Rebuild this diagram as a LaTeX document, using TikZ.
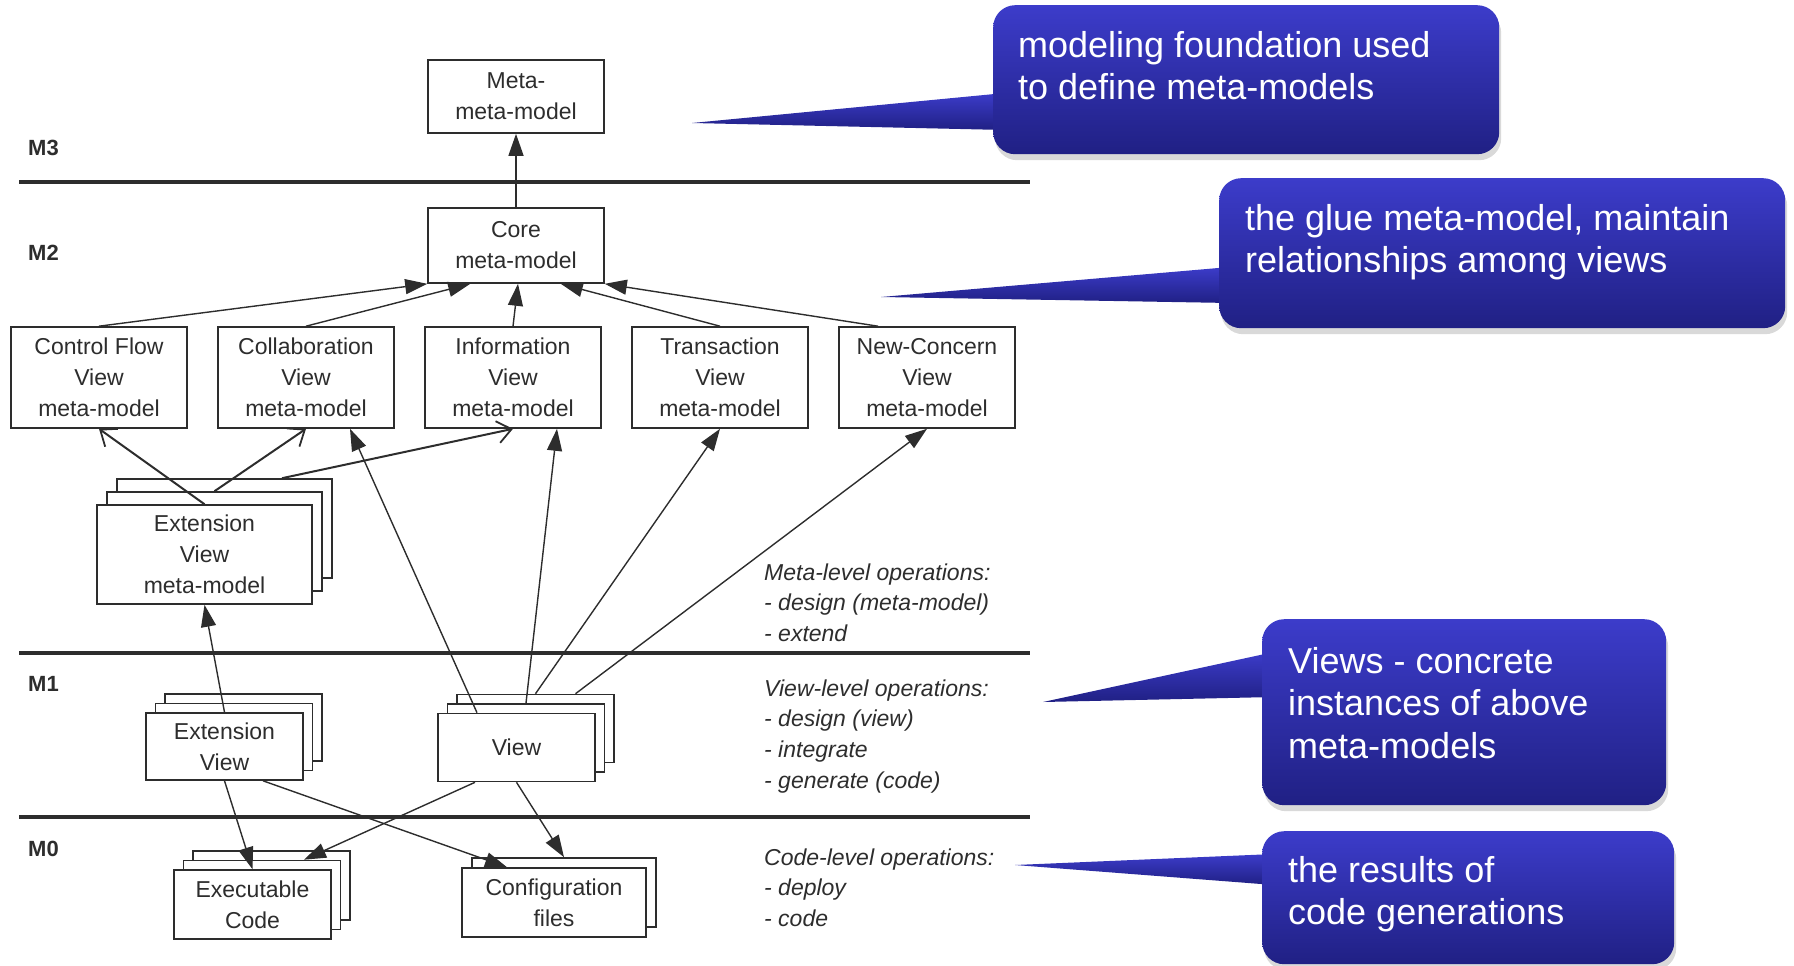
\documentclass[tikz,border=0pt]{standalone}
\usepackage{fontspec}
\setmainfont{Liberation Sans}
\usetikzlibrary{arrows.meta,shadows}

\definecolor{calltop}{RGB}{60,60,202}
\definecolor{callmid}{RGB}{44,44,168}
\definecolor{callbot}{RGB}{32,32,132}
\definecolor{ink}{RGB}{45,45,45}

\begin{document}
\begin{tikzpicture}[x=1pt, y=-1pt,
    box/.style={draw=ink, line width=1.6pt, fill=white, align=center, text=ink,
      inner sep=0pt, font=\fontsize{23}{31}\selectfont},
    vm/.style={box, minimum width=176pt, minimum height=101pt},
    layer/.style={draw=ink, line width=1.6pt, fill=white, inner sep=0pt},
    level/.style={line width=3.5pt, draw=ink},
    lvl name/.style={anchor=west, inner sep=0pt, text=ink, font=\fontsize{22}{22}\bfseries\selectfont},
    ops/.style={anchor=base west, inner sep=0pt, align=left, text=ink,
      font=\fontsize{23}{30.7}\itshape\selectfont},
    arr/.style={-{Triangle[length=22pt, width=15pt]}, line width=1.4pt, draw=ink},
    ext arr/.style={-{Straight Barb[length=14pt, width=22pt, line width=1.8pt]}, line width=2pt, draw=ink},
    callout/.style={anchor=north west, top color=calltop, middle color=callmid, bottom color=callbot,
      rounded corners=22pt, drop shadow={shadow xshift=2pt, shadow yshift=-6pt, opacity=0.3}},
    pointer/.style={top color=calltop, bottom color=callbot},
    callout text/.style={anchor=base west, inner sep=0pt, align=left, text=white,
      font=\fontsize{36}{42.5}\selectfont}
]
    \useasboundingbox (0,0) rectangle (1794,966);

    % levels
    \draw[level] (19,182) -- (1030,182);
    \draw[level] (19,653) -- (1030,653);
    \draw[level] (19,817) -- (1030,817);
    \node[lvl name] (m3) at (28,148) {M3};
    \node[lvl name] (m2) at (28,253) {M2};
    \node[lvl name] (m1) at (28,684) {M1};
    \node[lvl name] (m0) at (28,849) {M0};

    % M3 and M2
    \node[box, minimum width=176pt, minimum height=73pt] (meta) at (516,96.5) {Meta-\\meta-model};
    \node[box, minimum width=176pt, minimum height=75pt] (core) at (516,245.5) {Core\\meta-model};

    \node[vm] (cf) at (99,377.5) {Control Flow\\View\\meta-model};
    \node[vm] (collab) at (306,377.5) {Collaboration\\View\\meta-model};
    \node[vm] (info) at (513,377.5) {Information\\View\\meta-model};
    \node[vm] (trans) at (720,377.5) {Transaction\\View\\meta-model};
    \node[vm] (newc) at (927,377.5) {New-Concern\\View\\meta-model};

    \node[layer, minimum width=215pt, minimum height=99pt] (extmmC) at (224.5,528.5) {};
    \node[layer, minimum width=215pt, minimum height=99pt] (extmmB) at (214.5,541.5) {};
    \node[box, minimum width=215pt, minimum height=99pt] (extmm) at (204.5,554.5) {Extension\\View\\meta-model};

    % M1
    \node[layer, minimum width=157pt, minimum height=67pt] (extvC) at (243.5,727.5) {};
    \node[layer, minimum width=157pt, minimum height=67pt] (extvB) at (234,737) {};
    \node[box, minimum width=157pt, minimum height=67pt] (extv) at (224.5,746.5) {Extension\\View};

    \node[layer, minimum width=157pt, minimum height=68pt] (viewC) at (535.5,728.5) {};
    \node[layer, minimum width=157pt, minimum height=68pt] (viewB) at (526,738) {};
    \node[box, minimum width=157pt, minimum height=68pt] (view) at (516.5,747.5) {View};

    % M0
    \node[layer, minimum width=157pt, minimum height=69pt] (execC) at (271.5,885.5) {};
    \node[layer, minimum width=157pt, minimum height=69pt] (execB) at (262,895) {};
    \node[box, minimum width=157pt, minimum height=69pt] (exec) at (252.5,904.5) {Executable\\Code};

    \node[layer, minimum width=184pt, minimum height=69pt] (configB) at (564,892.5) {};
    \node[box, minimum width=184pt, minimum height=69pt] (config) at (554,902.5) {Configuration\\files};

    % connectors
    \draw[arr] (core) -- (meta);
    \draw[arr] (cf.north) -- (core.south west);
    \draw[arr] (collab.north) -- ([xshift=43pt]core.south west);
    \draw[arr] (info.north) -- ([xshift=2pt]core.south);
    \draw[arr] (trans.north) -- ([xshift=-44pt]core.south east);
    \draw[arr] ([xshift=-49pt]newc.north) -- (core.south east);

    \draw[ext arr] (extmm.north) -- (cf.south);
    \draw[ext arr] (extmmB.north) -- (collab.south);
    \draw[ext arr] ([xshift=57.5pt]extmmC.north) -- (info.south);

    \draw[arr] ([xshift=-39.5pt]view.north) -- ([xshift=44pt]collab.south);
    \draw[arr] (viewB.north) -- ([xshift=44pt]info.south);
    \draw[arr] (viewC.north) -- (trans.south);
    \draw[arr] ([xshift=40pt]viewC.north) -- (newc.south);

    \draw[arr] (extv.north) -- (extmm.south);
    \draw[arr] (extv.south) -- (exec.north);
    \draw[arr] ([xshift=38.5pt]extv.south) -- ([xshift=-47pt]config.north);
    \draw[arr] ([xshift=-41.5pt]view.south) -- ([xshift=42pt]execB.north);
    \draw[arr] (view.south) -- (configB.north);

    % operations (base = last line)
    \node[ops] (metaops) at (764,641.4) {Meta-level operations:\\- design (meta-model)\\- extend};
    \node[ops] (viewops) at (764,788.1) {View-level operations:\\- design (view)\\- integrate\\- generate (code)};
    \node[ops] (codeops) at (764,926.4) {Code-level operations:\\- deploy\\- code};

    % callouts
    \coordinate (tip1) at (692,123);
    \coordinate (tip2) at (881,297);
    \coordinate (tip3) at (1043,702);
    \coordinate (tip4) at (1015,865);
    \path[pointer] (tip1) -- (1005,93) -- (1005,130) -- cycle;
    \path[pointer] (tip2) -- (1230,267) -- (1230,303) -- cycle;
    \path[pointer] (tip3) -- (1274,652) -- (1274,697) -- cycle;
    \path[pointer] (tip4) -- (1274,854) -- (1274,885) -- cycle;

    \node[callout, minimum width=506pt, minimum height=149pt] (c1) at (993,5) {};
    \node[callout, minimum width=566pt, minimum height=150pt] (c2) at (1219,178) {};
    \node[callout, minimum width=404pt, minimum height=186pt] (c3) at (1262,619) {};
    \node[callout, minimum width=412pt, minimum height=133pt] (c4) at (1262,831) {};

    \node[callout text] (c1t) at (1018,99.5) {modeling foundation used\\to define meta-models};
    \node[callout text] (c2t) at (1245,272.5) {the glue meta-model, maintain\\relationships among views};
    \node[callout text] (c3t) at (1288,758) {Views - concrete\\instances of above\\meta-models};
    \node[callout text] (c4t) at (1288,924.5) {the results of\\code generations};
\end{tikzpicture}
\end{document}
